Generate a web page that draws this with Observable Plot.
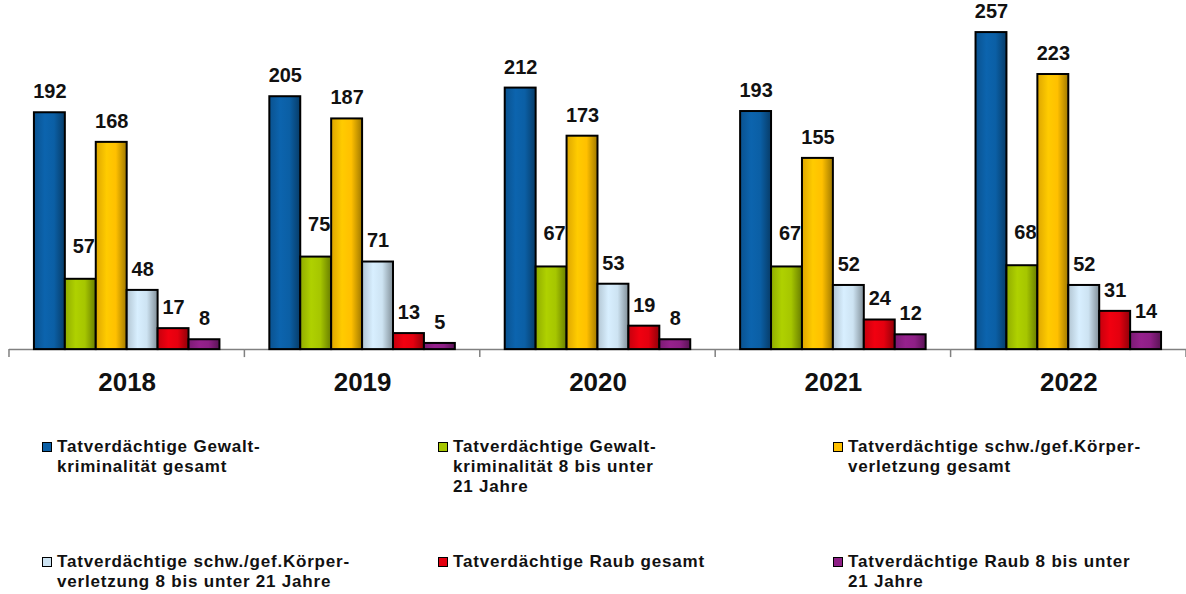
<!DOCTYPE html>
<html>
<head>
<meta charset="utf-8">
<script src="https://cdn.jsdelivr.net/npm/d3@7"></script>
<script src="https://cdn.jsdelivr.net/npm/@observablehq/plot@0.6"></script>
<style>
  html, body { margin: 0; padding: 0; background: #fff; overflow: hidden; }
  body { width: 1186px; height: 594px; position: relative; font-family: "Liberation Sans", Arial, sans-serif; }
  #chart { position: absolute; left: 0; top: 0; }
  #legend { position: absolute; left: 42px; top: 437px; display: grid;
            grid-template-columns: 396px 395px 340px; grid-template-rows: 115px 42px; }
  .item { display: flex; align-items: flex-start; font-size: 17px; letter-spacing: 0.8px; font-weight: bold; line-height: 20px; color: #111; }
  .sw { width: 8px; height: 8px; border: 1.5px solid #000; margin-top: 5px; margin-right: 5px; flex: none; }
  .lbl { white-space: pre-line; }
</style>
</head>
<body>
<div id="chart"></div>
<div id="legend"></div>
<script>
// ---- data ----
const years = ["2018", "2019", "2020", "2021", "2022"];
const seriesNames = [
  "Tatverdächtige Gewalt-\nkriminalität  gesamt",
  "Tatverdächtige Gewalt-\nkriminalität  8 bis unter\n21 Jahre",
  "Tatverdächtige schw./gef.Körper-\nverletzung gesamt",
  "Tatverdächtige schw./gef.Körper-\nverletzung 8 bis unter 21 Jahre",
  "Tatverdächtige Raub gesamt",
  "Tatverdächtige Raub 8 bis unter\n21 Jahre"
];
const gewaltGesamt  = [192, 205, 212, 193, 257];
const gewaltJung    = [57, 75, 67, 67, 68];
const koerperGesamt = [168, 187, 173, 155, 223];
const koerperJung   = [48, 71, 53, 52, 52];
const raubGesamt    = [17, 13, 19, 24, 31];
const raubJung      = [8, 5, 8, 12, 14];
const seriesValues = [gewaltGesamt, gewaltJung, koerperGesamt, koerperJung, raubGesamt, raubJung];
const baseColors = ["#0b5fa5", "#a6c600", "#ffc000", "#cde3f2", "#e4000f", "#8e1f86"];

const seriesKeys = seriesNames.map((_, j) => "s" + j);
const data = years.flatMap((y, i) => seriesKeys.map((s, j) => ({year: y, series: s, idx: j, value: seriesValues[j][i]})));

const font = '"Liberation Sans", Arial, sans-serif';
const labelOpts = {fx: "year", x: "series", y: "value", text: d => String(d.value),
  fontSize: 20, fontWeight: "bold", fill: "#111", fontFamily: font};

const plot = Plot.plot({
  width: 1189, height: 400,
  marginLeft: 8, marginRight: 0, marginTop: 0, marginBottom: 50,
  style: {fontFamily: font, background: "white", color: "#111", overflow: "visible"},
  fx: {domain: years, padding: 0, label: null},
  x: {domain: seriesKeys, paddingInner: 0, paddingOuter: 0.75, axis: null},
  y: {domain: [0, 283], axis: null},
  color: {domain: seriesKeys, range: seriesKeys.map((_, j) => `url(#grad${j})`)},
  marks: [
    Plot.ruleY([0], {stroke: "#808080", strokeWidth: 1.5}),
    Plot.barY(data, {fx: "year", x: "series", y: "value", fill: "series", stroke: "#000", strokeWidth: 2}),
    Plot.text(data.filter(d => d.idx !== 1), {...labelOpts, dy: -21}),
    Plot.text(data.filter(d => d.idx === 1), {...labelOpts, dy: -33, dx: 3}),
    Plot.axisFx({anchor: "bottom", tickSize: 0, tickPadding: 23, fontSize: 26, fontWeight: "bold", label: null, fill: "#111"})
  ]
});

// gradients for the bar fills
const svg = d3.select(plot);
const defs = svg.insert("defs", ":first-child");
baseColors.forEach((c, j) => {
  const base = d3.color(c);
  const g = defs.append("linearGradient").attr("id", "grad" + j)
    .attr("x1", "0").attr("x2", "1").attr("y1", "0").attr("y2", "0");
  g.append("stop").attr("offset", "0").attr("stop-color", base.darker(0.4));
  g.append("stop").attr("offset", "0.35").attr("stop-color", base.brighter(0.15));
  g.append("stop").attr("offset", "0.65").attr("stop-color", base);
  g.append("stop").attr("offset", "1").attr("stop-color", base.darker(1.3));
});

// boundary ticks on the category axis, from the fx scale
const fx = plot.scale("fx");
const y = plot.scale("y");
const y0 = y.apply(0);
const bounds = years.map(yr => fx.apply(yr)).concat([fx.apply(years[years.length - 1]) + fx.bandwidth]);
svg.append("g").selectAll("line").data(bounds).join("line")
  .attr("x1", d => d).attr("x2", d => d)
  .attr("y1", y0).attr("y2", y0 + 8)
  .attr("stroke", "#808080").attr("stroke-width", 1.5);

document.getElementById("chart").appendChild(plot);

// legend
const legend = d3.select("#legend");
seriesNames.forEach((name, j) => {
  const it = legend.append("div").attr("class", "item");
  it.append("div").attr("class", "sw").style("background", baseColors[j]);
  it.append("div").attr("class", "lbl").text(name);
});
</script>
</body>
</html>
